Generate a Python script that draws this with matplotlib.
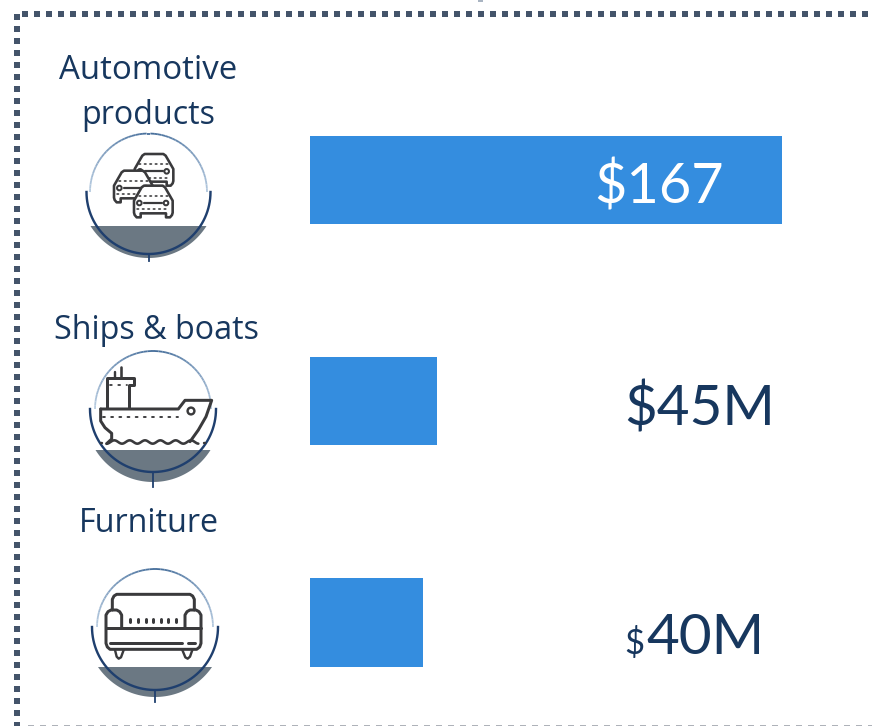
import numpy as np
import matplotlib
matplotlib.use("Agg")
import matplotlib.pyplot as plt
from matplotlib.patches import Polygon, Circle

categories = ["Automotive\nproducts", "Ships & boats", "Furniture"]
values = [167, 45, 40]
value_labels = ["$167", "$45M", "$40M"]

W, H = 872, 726
NAVY = "#17375E"
BAR = "#348DDF"
DOT = "#44546A"
INK = "#3A3A3C"
GREY = "#6B7883"

fig = plt.figure(figsize=(W / 100, H / 100), dpi=100, facecolor="white")

# bars: real value axis; 472 px = 167
bar_ax = fig.add_axes([310 / W, 0, 472 / W, 1], facecolor="none")
bar_ax.set_xlim(0, max(values))
bar_ax.set_ylim(H, 0)
bar_ax.axis("off")
bar_ax.barh([180, 401, 622.5], values, height=88.5, color=BAR, linewidth=0)

bg = fig.add_axes([0, 0, 1, 1], facecolor="none")
bg.set_xlim(0, W)
bg.set_ylim(H, 0)
bg.axis("off")
bg.set_zorder(3)

px = 72 / 100
# dotted frame
for xs, ys in [([22, W], [14, 14]), ([16.5, 16.5], [14, 728])]:
    bg.plot(xs, ys, color=DOT, lw=6 * px, ls=(0, (1, 1)), dash_capstyle="butt")
bg.plot([28, W], [725.5, 725.5], color="#9A9FA8", lw=1.6 * px, ls=(0, (3.75, 3.75)), dash_capstyle="butt")
bg.plot([478, 483], [0.5, 0.5], color="#A9B4C2", lw=2 * px, solid_capstyle="butt")


def line(pts, ox, oy, lw=2.0, color=INK, ls="-", z=4):
    p = np.array(pts, float) / 3
    bg.plot(p[:, 0] + ox, p[:, 1] + oy, color=color, lw=lw * px, ls=ls, zorder=z,
            solid_capstyle="round", solid_joinstyle="round", dash_capstyle="round")


def medallion(cx, cy, r_thin, r_dark, chord_y, half, bottom, tick_end):
    s = bottom - chord_y
    r = (half ** 2 + s ** 2) / (2 * s)
    c = bottom - r
    a0 = np.arcsin(np.clip((chord_y - c) / r, -1, 1))
    t = np.linspace(a0, np.pi - a0, 60)
    bg.add_patch(Polygon(np.c_[cx + r * np.cos(t), c + r * np.sin(t)], closed=True,
                         fc=GREY, ec="none", zorder=1))
    t = np.linspace(np.pi, 2 * np.pi, 50)
    for i in range(len(t) - 1):
        f = abs((t[i] - 1.5 * np.pi) / (0.5 * np.pi))
        col = np.array([0.26, 0.42, 0.60]) * (1 - f) + np.array([0.72, 0.80, 0.88]) * f
        bg.plot(cx + r_thin * np.cos(t[i:i + 2]), cy + r_thin * np.sin(t[i:i + 2]),
                color=col, lw=1.8 * px, zorder=2, solid_capstyle="butt")
    t = np.linspace(0, np.pi, 60)
    bg.plot(cx + r_dark * np.cos(t), cy + r_dark * np.sin(t), color="#1F3F6E", lw=2.4 * px, zorder=3)
    bg.plot([cx, cx], [cy + r_dark, tick_end], color="#1F3F6E", lw=1.8 * px, zorder=3)


def car(ox, oy, dx, dy, z):
    body = [(230, 262), (224, 255), (222, 248), (222, 212), (230, 198), (245, 172), (252, 167), (308, 167),
            (315, 172), (330, 198), (338, 212), (338, 248), (336, 255), (330, 262), (318, 262), (318, 250),
            (242, 250), (242, 262)]
    p = np.array([(x + dx, y + dy) for x, y in body], float) / 3
    bg.add_patch(Polygon(p + [ox, oy], closed=True, fc="white", ec=INK, lw=2.6 * px, zorder=z,
                         joinstyle="round"))
    line([(236 + dx, 197 + dy), (324 + dx, 197 + dy)], ox, oy, 1.6, ls=(0, (1, 2.4)), z=z)
    line([(232 + dx, 238 + dy), (328 + dx, 238 + dy)], ox, oy, 1.6, ls=(0, (1, 2.4)), z=z)
    line([(252 + dx, 219 + dy), (306 + dx, 219 + dy)], ox, oy, 2.2, z=z)
    for xx in (238, 318):
        bg.add_patch(Circle(((xx + dx) / 3 + ox, (219 + dy) / 3 + oy), 2.3, fc="white", ec=INK,
                            lw=2 * px, zorder=z))


# Icon 1: cars
medallion(148.5, 192, 58.5, 62, 226, 58, 258, 261)
for z, (dx, dy) in enumerate([(2, -95), (-60, -45), (0, 0)]):
    car(60, 130, dx, dy, 4 + z)

# Icon 2: ship
ox, oy = 70, 345
medallion(153, 409, 58, 63, 450, 57.5, 482, 487)
LW = 3.0
line([(92, 192), (325, 192), (345, 166), (425, 166), (408, 215), (385, 255), (360, 290)], ox, oy, LW)
line([(92, 192), (92, 228), (105, 248), (125, 265), (125, 282), (110, 296)], ox, oy, LW)
line([(112, 190), (112, 100), (192, 100), (192, 120), (176, 120), (176, 190)], ox, oy, LW)
line([(120, 120), (170, 120)], ox, oy, 1.8, ls=(0, (1, 3.6)))
line([(135, 100), (135, 82)], ox, oy, 2.4)
line([(153, 100), (153, 65)], ox, oy, 2.6)
line([(100, 216), (325, 216)], ox, oy, 1.9, ls=(0, (1, 3.3)))
xw = np.linspace(110, 385, 120)
line(np.c_[xw, 291 + 5 * np.cos((xw - 110) / 46.0 * 2 * np.pi)], ox, oy, 2.6)
line([(92, 295), (96, 295)], ox, oy, 2.4)
line([(402, 295), (406, 295)], ox, oy, 2.4)
bg.add_patch(Circle((363 / 3 + ox, 198 / 3 + oy), 3.4, fc="white", ec=INK, lw=2.4 * px, zorder=5))

# Icon 3: sofa
ox, oy = 75, 560
medallion(155, 627, 58, 63, 667, 57, 697, 702)
line([(112, 150), (112, 118), (117, 108), (125, 103), (345, 103), (353, 108), (358, 118), (358, 150)], ox, oy, LW)
line([(140, 205), (330, 205)], ox, oy, LW)
line([(140, 205), (140, 165), (134, 155), (125, 150), (108, 150), (99, 155), (93, 165), (93, 250), (97, 261), (105, 268),
      (365, 268), (374, 261), (378, 250), (378, 165), (372, 155), (363, 150), (345, 150), (336, 155), (330, 165),
      (330, 205)], ox, oy, LW)
line([(93, 205), (140, 205)], ox, oy, LW)
line([(330, 205), (378, 205)], ox, oy, LW)
line([(105, 250), (322, 250)], ox, oy, LW)
line([(338, 250), (360, 250)], ox, oy, LW)
for x in (165, 190, 212, 235, 258, 280, 304):
    line([(x, 177), (x, 187)], ox, oy, 3.0)
line([(120, 270), (125, 290), (131, 296), (138, 292), (146, 270)], ox, oy, 2.4)
line([(322, 270), (331, 292), (338, 296), (345, 290), (352, 270)], ox, oy, 2.4)

# Category labels
lab = dict(family="Open Sans", color=NAVY, fontsize=23.2, va="baseline", ha="center")
first, second = categories[0].split("\n")
bg.text(148.5, 79, first, fontstretch="normal", **{**lab, "fontsize": 23.8})
bg.text(148.5, 124, second, **lab)
bg.text(156, 339, categories[1], **lab)
bg.text(148.5, 532, categories[2], **lab)

# Value labels
VF = "Lato"
bg.text(594, 203, value_labels[0], family=VF, color="white", fontsize=40.2, va="baseline", ha="left", zorder=6)
bg.text(624, 426, value_labels[1], family=VF, color=NAVY, fontsize=40.8, va="baseline", ha="left")
bg.text(624, 654, value_labels[2][0], family=VF, color=NAVY, fontsize=25, va="baseline", ha="left")
bg.text(646, 654, value_labels[2][1:], family=VF, color=NAVY, fontsize=40.8, va="baseline", ha="left")

fig.savefig("out.png", dpi=100, facecolor="white")
